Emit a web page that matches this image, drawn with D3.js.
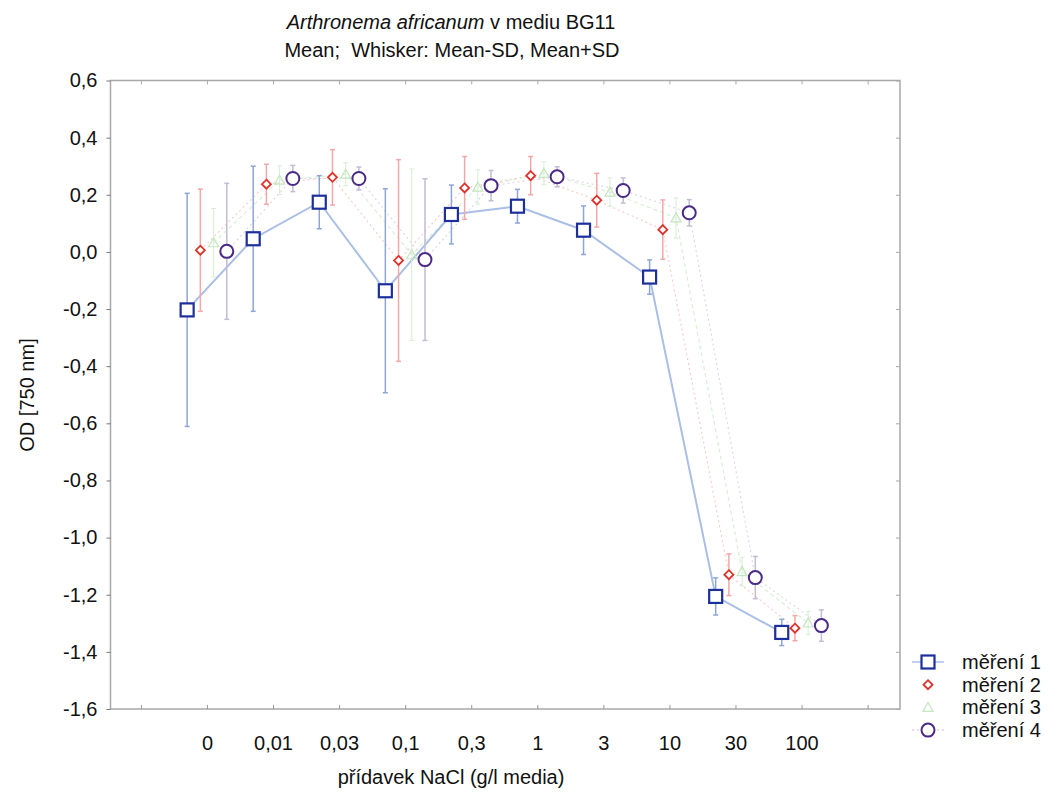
<!DOCTYPE html>
<html><head><meta charset="utf-8">
<script src="https://cdn.jsdelivr.net/npm/d3@7"></script>
<style>body{margin:0;background:#fff;} text{font-family:"Liberation Sans",Arial,sans-serif;}</style>
</head><body><svg id="c" width="1062" height="792"></svg>
<script>
const categories = ["0","0,01","0,03","0,1","0,3","1","3","10","30","100"];
const seriesNames = ["měření 1","měření 2","měření 3","měření 4"];
const mean1 = [-0.203, 0.046, 0.174, -0.136, 0.131, 0.160, 0.076, -0.088, -1.206, -1.332];
const sd1   = [0.408, 0.254, 0.093, 0.357, 0.103, 0.059, 0.085, 0.060, 0.065, 0.046];
const mean2 = [0.006, 0.237, 0.261, -0.030, 0.224, 0.267, 0.181, 0.078, -1.130, -1.317];
const sd2   = [0.214, 0.070, 0.097, 0.353, 0.110, 0.067, 0.094, 0.104, 0.073, 0.044];
const mean3 = [0.032, 0.251, 0.272, -0.010, 0.227, 0.275, 0.209, 0.119, -1.119, -1.299];
const sd3   = [0.120, 0.050, 0.040, 0.300, 0.060, 0.040, 0.050, 0.070, 0.050, 0.040];
const mean4 = [0.002, 0.257, 0.257, -0.027, 0.232, 0.263, 0.215, 0.137, -1.140, -1.308];
const sd4   = [0.238, 0.046, 0.040, 0.283, 0.053, 0.035, 0.044, 0.046, 0.074, 0.055];
const yTicks = [0.6,0.4,0.2,0.0,-0.2,-0.4,-0.6,-0.8,-1.0,-1.2,-1.4,-1.6];

const means = [mean1, mean2, mean3, mean4];
const sds = [sd1, sd2, sd3, sd4];
const offsets = [-0.3, -0.1, 0.1, 0.3];
const markerColor = ["#1c2f9a", "#e0302a", "#c4e6c0", "#4a2a86"];
const lineColor = ["#aabfe6", "#f6cccc", "#d8efd5", "#dcd8e6"];
const whiskColor = ["#8ea6d6", "#f2a8a8", "#d6eed3", "#c3bdd4"];
const dash = [null, "2,3", "4,3", "2,3"];

const svg = d3.select("#c");
const L = 110.5, R = 900, T = 80.5, B = 709;
const x = d3.scaleLinear().domain([-1.46, 10.49]).range([L, R]);
const y = d3.scaleLinear().domain([-1.6, 0.6]).range([B, T]);
const fmt = v => d3.format(".1f")(v).replace(".", ",").replace("−","-");
const FS = 20;

// frame
svg.append("rect").attr("x", L).attr("y", T).attr("width", R - L).attr("height", B - T)
  .attr("fill", "none").attr("stroke", "#a8a8a8").attr("stroke-width", 1.5);

// y axis
const yAxis = d3.axisLeft(y).tickValues(yTicks).tickSize(4).tickFormat(fmt);
const gy = svg.append("g").attr("transform", `translate(${L},0)`).call(yAxis);
gy.select(".domain").remove();
gy.selectAll("line").attr("stroke", "#777");
gy.selectAll("text").attr("font-size", FS).attr("fill", "#111").attr("x", -13);
const gyr = svg.append("g").attr("transform", `translate(${R},0)`).call(d3.axisLeft(y).tickValues(yTicks).tickSize(4).tickFormat(""));
gyr.select(".domain").remove(); gyr.selectAll("line").attr("stroke", "#aaa");

// x axis
const xTickIdx = d3.range(-1, 11);
const xAxis = d3.axisBottom(x).tickValues(xTickIdx).tickSize(-4).tickFormat(i => categories[i] || "");
const gx = svg.append("g").attr("transform", `translate(0,${B})`).call(xAxis);
gx.select(".domain").remove();
gx.selectAll("line").attr("stroke", "#999");
gx.selectAll("text").attr("font-size", FS).attr("fill", "#111").attr("dy", 0).attr("y", 41);
const gxt = svg.append("g").attr("transform", `translate(0,${T})`).call(d3.axisBottom(x).tickValues(xTickIdx).tickSize(4).tickFormat(""));
gxt.select(".domain").remove(); gxt.selectAll("line").attr("stroke", "#aaa");

// titles
const t1 = svg.append("text").attr("x", 451).attr("y", 29).attr("text-anchor", "middle").attr("font-size", FS).attr("fill", "#111");
t1.append("tspan").attr("font-style", "italic").text("Arthronema africanum");
t1.append("tspan").text(" v mediu BG11");
svg.append("text").attr("x", 452).attr("y", 57).attr("text-anchor", "middle").attr("font-size", FS).attr("fill", "#111")
  .style("white-space","pre").text("Mean;  Whisker: Mean-SD, Mean+SD");
svg.append("text").attr("x", 451).attr("y", 784).attr("text-anchor", "middle").attr("font-size", FS).attr("fill", "#111")
  .text("přídavek NaCl (g/l media)");
svg.append("text").attr("transform", "translate(34,395) rotate(-90)").attr("text-anchor", "middle")
  .attr("font-size", FS).attr("fill", "#111").text("OD [750 nm]");

const plot = svg.append("g");
[3, 2, 1, 0].forEach(s => {
  const line = d3.line().x((d, i) => x(i + offsets[s])).y(d => y(d));
  plot.append("path").datum(means[s]).attr("d", line).attr("fill", "none")
    .attr("stroke", lineColor[s]).attr("stroke-width", s === 0 ? 2 : 1.2)
    .attr("stroke-dasharray", dash[s]);
});
[3, 2, 1, 0].forEach(s => {
  const g = plot.append("g").attr("stroke", whiskColor[s]).attr("stroke-width", s === 2 ? 1 : 1.5);
  means[s].forEach((m, i) => {
    const cx = x(i + offsets[s]);
    const lo = m - sds[s][i], hi = m + sds[s][i];
    g.append("line").attr("x1", cx).attr("x2", cx).attr("y1", y(lo)).attr("y2", y(hi));
    g.append("line").attr("x1", cx - 2.5).attr("x2", cx + 2.5).attr("y1", y(lo)).attr("y2", y(lo));
    g.append("line").attr("x1", cx - 2.5).attr("x2", cx + 2.5).attr("y1", y(hi)).attr("y2", y(hi));
  });
});
function drawMarker(g, s, cx, cy) {
  if (s === 0) g.append("rect").attr("x", cx - 6.5).attr("y", cy - 6.5).attr("width", 13).attr("height", 13)
      .attr("fill", "#fff").attr("stroke", markerColor[0]).attr("stroke-width", 2.2);
  else if (s === 1) g.append("path").attr("d", `M${cx},${cy-4.5}L${cx+4.5},${cy}L${cx},${cy+4.5}L${cx-4.5},${cy}Z`)
      .attr("fill", "#fff").attr("stroke", markerColor[1]).attr("stroke-width", 1.8);
  else if (s === 2) g.append("path").attr("d", `M${cx},${cy-5}L${cx+5},${cy+4}L${cx-5},${cy+4}Z`)
      .attr("fill", "none").attr("stroke", markerColor[2]).attr("stroke-width", 1.2);
  else g.append("circle").attr("cx", cx).attr("cy", cy).attr("r", 6.5)
      .attr("fill", "#fff").attr("stroke", markerColor[3]).attr("stroke-width", 2);
}
[2, 3, 1, 0].forEach(s => {
  means[s].forEach((m, i) => drawMarker(plot, s, x(i + offsets[s]), y(m)));
});

// legend
const lg = svg.append("g");
seriesNames.forEach((n, s) => {
  const ly = 662 + s * 22.7;
  if (s === 0 || s === 3) lg.append("line").attr("x1", 912).attr("x2", 944).attr("y1", ly).attr("y2", ly)
     .attr("stroke", lineColor[s]).attr("stroke-width", 1.5).attr("stroke-dasharray", dash[s]);
  drawMarker(lg, s, 928, ly);
  lg.append("text").attr("x", 962).attr("y", ly + 7).attr("font-size", FS).attr("fill", "#111").text(n);
});
</script></body></html>
